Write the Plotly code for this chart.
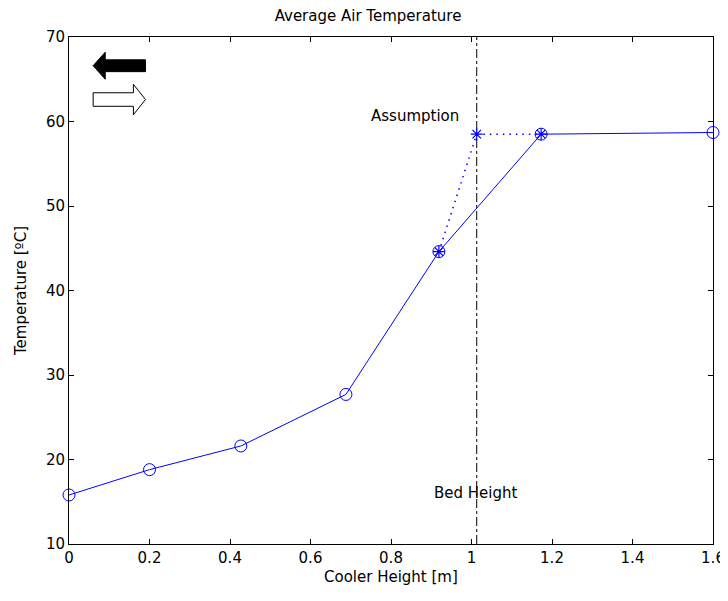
import plotly.graph_objects as go

# Data
cooler_height = [0.0, 0.2, 0.427, 0.688, 0.919, 1.173, 1.6]
temperature = [15.8, 18.8, 21.6, 27.7, 44.6, 58.5, 58.7]

assump_x = [0.919, 1.013, 1.173]
assump_y = [44.6, 58.5, 58.5]

bed_height = 1.013
y_range = [10, 70]
x_ticks = [0, 0.2, 0.4, 0.6, 0.8, 1, 1.2, 1.4, 1.6]
x_tick_text = ["0", "0.2", "0.4", "0.6", "0.8", "1", "1.2", "1.4", "1.6"]
y_ticks = [10, 20, 30, 40, 50, 60, 70]

FONT = "DejaVu Sans, Liberation Sans, sans-serif"
FS = 15
BLUE = "#0000ff"

fig = go.Figure()

fig.add_trace(go.Scatter(
    x=[bed_height, bed_height], y=y_range, mode="lines",
    line=dict(color="black", width=1, dash="dashdot"), showlegend=False,
    hoverinfo="skip"))

fig.add_trace(go.Scatter(
    x=assump_x, y=assump_y, mode="lines+markers",
    line=dict(color=BLUE, width=1.5, dash="1.5px,5px"),
    marker=dict(symbol="asterisk-open", size=10, color=BLUE, line=dict(color=BLUE, width=1.2)),
    showlegend=False))

fig.add_trace(go.Scatter(
    x=cooler_height, y=temperature, mode="lines+markers",
    line=dict(color=BLUE, width=1),
    marker=dict(symbol="circle-open", size=12, color=BLUE, line=dict(color=BLUE, width=1)),
    showlegend=False, cliponaxis=False))

# arrows (decorative) in data coordinates
black_arrow = "M 0.06,66.6 L 0.09,68.2 L 0.09,67.3 L 0.19,67.3 L 0.19,65.9 L 0.09,65.9 L 0.09,65.0 Z"
white_arrow = "M 0.19,62.6 L 0.16,64.4 L 0.16,63.4 L 0.06,63.4 L 0.06,61.8 L 0.16,61.8 L 0.16,60.8 Z"
fig.add_shape(type="path", path=black_arrow, xref="x", yref="y",
              fillcolor="black", line=dict(color="black", width=1))
fig.add_shape(type="path", path=white_arrow, xref="x", yref="y",
              fillcolor="white", line=dict(color="black", width=1))

fig.add_annotation(x=0.86, y=60.7, text="Assumption", showarrow=False,
                   font=dict(family=FONT, size=FS, color="black"))
fig.add_annotation(x=1.011, y=16.0, text="Bed Height", showarrow=False,
                   font=dict(family=FONT, size=FS, color="black"))
# x-axis title
fig.add_annotation(x=0.5, xref="paper", y=-0.066, yref="paper", yanchor="middle",
                   text="Cooler Height [m]", showarrow=False,
                   font=dict(family=FONT, size=FS, color="black"))

axis_common = dict(showgrid=False, zeroline=False, showline=True, linecolor="black",
                   linewidth=1, mirror="ticks", ticks="inside", ticklen=5,
                   tickcolor="black", tickfont=dict(family=FONT, size=FS, color="black"),
                   ticklabeloverflow="allow", automargin=False)

fig.update_layout(
    width=720, height=585,
    paper_bgcolor="white", plot_bgcolor="white",
    margin=dict(l=61, r=15, t=29, b=49),
    title=dict(text="Average Air Temperature", x=0.5, xanchor="center", y=0.995, yanchor="top",
               font=dict(family=FONT, size=FS, color="black")),
    xaxis=dict(range=[0, 1.6], tickvals=x_ticks, ticktext=x_tick_text, **axis_common),
    yaxis=dict(range=y_range, tickvals=y_ticks,
               title=dict(text="Temperature [ºC]",
                          font=dict(family=FONT, size=FS, color="black")),
               **axis_common),
)

fig.write_html("out.html")
